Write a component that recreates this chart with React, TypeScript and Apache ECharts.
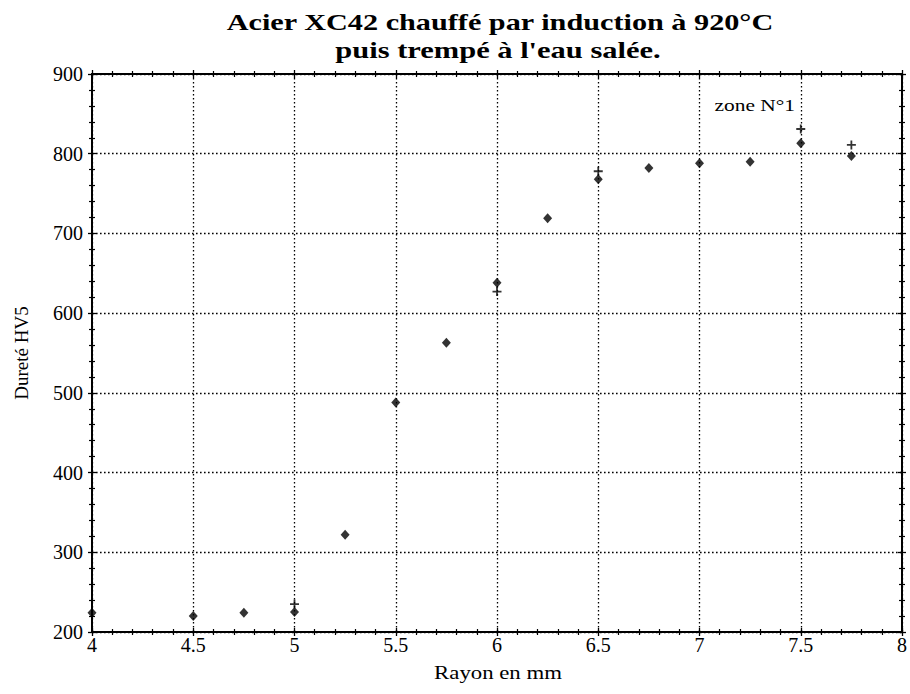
import React, { useEffect, useRef } from "react";
import * as echarts from "echarts";

// Data
const radiusMm = [4, 4.5, 4.75, 5, 5.25, 5.5, 5.75, 6, 6.25, 6.5, 6.75, 7, 7.25, 7.5, 7.75];
const hardnessDiamond = [224, 220, 224, 225, 322, 488, 563, 638, 719, 768, 782, 788, 790, 813, 797];
const plusRadius = [5, 6, 6.5, 7.5, 7.75];
const plusHardness = [235, 627, 778, 831, 811];

const titleLines = ["Acier XC42 chauffé par induction à 920°C", "puis trempé à l'eau salée."];
const xAxisName = "Rayon en mm";
const yAxisName = "Dureté HV5";
const zoneLabel = "zone N°1";

const SERIF = "Liberation Serif, Times New Roman, Times, serif";

function makeX(position: string, inside: boolean, main: boolean) {
  return {
    type: "value",
    min: 4,
    max: 8,
    interval: 0.5,
    position,
    axisLine: { show: true, onZero: false, lineStyle: { color: "#000", width: 2 } },
    axisTick: { show: true, inside, length: 4, lineStyle: { color: "#000", width: 1.3 } },
    minorTick: { show: true, splitNumber: 5, length: 3, lineStyle: { color: "#000", width: 1.2 } },
    axisLabel: {
      show: main,
      margin: 3,
      color: "#000",
      fontFamily: SERIF,
      fontSize: 20,
    },
    splitLine: {
      show: main,
      lineStyle: { color: "#000", width: 1.3, type: [1.6, 2.4] },
    },
    minorSplitLine: { show: false },
  };
}

function makeY(position: string, inside: boolean, main: boolean) {
  return {
    type: "value",
    min: 200,
    max: 900,
    interval: 100,
    position,
    name: main ? yAxisName : "",
    nameLocation: "middle",
    nameGap: 61,
    nameTextStyle: { color: "#000", fontFamily: SERIF, fontSize: 19 },
    axisLine: { show: true, onZero: false, lineStyle: { color: "#000", width: 2 } },
    axisTick: { show: true, inside, length: 4, lineStyle: { color: "#000", width: 1.3 } },
    minorTick: { show: true, splitNumber: 5, length: 3, lineStyle: { color: "#000", width: 1.2 } },
    axisLabel: {
      show: main,
      margin: 9,
      color: "#000",
      fontFamily: SERIF,
      fontSize: 20,
    },
    splitLine: {
      show: main,
      lineStyle: { color: "#000", width: 1.3, type: [1.6, 2.4] },
    },
    minorSplitLine: { show: false },
  };
}

const PLUS_PATH = "path://M3.2,0H4.8V3.2H8V4.8H4.8V8H3.2V4.8H0V3.2H3.2Z";

export default function App() {
  const ref = useRef<HTMLDivElement>(null);

  useEffect(() => {
    if (!ref.current) return;
    const chart = echarts.init(ref.current, undefined, { renderer: "svg" });
    const textStyle = (text: string, font: string, align: string) => ({
      text,
      font,
      fill: "#000",
      align,
      textAlign: align,
      verticalAlign: "middle",
      textVerticalAlign: "middle",
    });
    chart.setOption({
      animation: false,
      backgroundColor: "#fff",
      grid: { left: 92, right: 4, top: 74, bottom: 62, containLabel: false },
      xAxis: [
        makeX("bottom", false, true),
        makeX("bottom", true, false),
        makeX("top", false, false),
        makeX("top", true, false),
      ],
      yAxis: [
        makeY("left", false, true),
        makeY("left", true, false),
        makeY("right", false, false),
        makeY("right", true, false),
      ],
      graphic: [
        {
          type: "text",
          x: 500,
          y: 22,
          scaleX: 1.26,
          style: textStyle(titleLines[0], `bold 24px ${SERIF}`, "center"),
        },
        {
          type: "text",
          x: 498,
          y: 50.5,
          scaleX: 1.27,
          style: textStyle(titleLines[1], `bold 24px ${SERIF}`, "center"),
        },
        {
          type: "text",
          x: 498,
          y: 673,
          scaleX: 1.2,
          style: textStyle(xAxisName, `19px ${SERIF}`, "center"),
        },
        {
          type: "text",
          x: 795,
          y: 105,
          scaleX: 1.26,
          style: textStyle(zoneLabel, `17px ${SERIF}`, "right"),
        },
      ],
      series: [
        {
          type: "scatter",
          name: "diamond",
          xAxisIndex: 0,
          yAxisIndex: 0,
          symbol: "diamond",
          symbolSize: [9, 10],
          itemStyle: { color: "#000" },
          data: radiusMm.map((x, i) => [x, hardnessDiamond[i]]),
          z: 5,
        },
        {
          type: "scatter",
          name: "plus",
          xAxisIndex: 0,
          yAxisIndex: 0,
          symbol: PLUS_PATH,
          symbolSize: 9,
          itemStyle: { color: "#000" },
          data: plusRadius.map((x, i) => [x, plusHardness[i]]),
          z: 6,
        },
      ],
    });
    return () => chart.dispose();
  }, []);

  return (
    <div
      ref={ref}
      style={{ position: "fixed", left: 0, top: 0, width: 910, height: 694, background: "#fff" }}
    />
  );
}
